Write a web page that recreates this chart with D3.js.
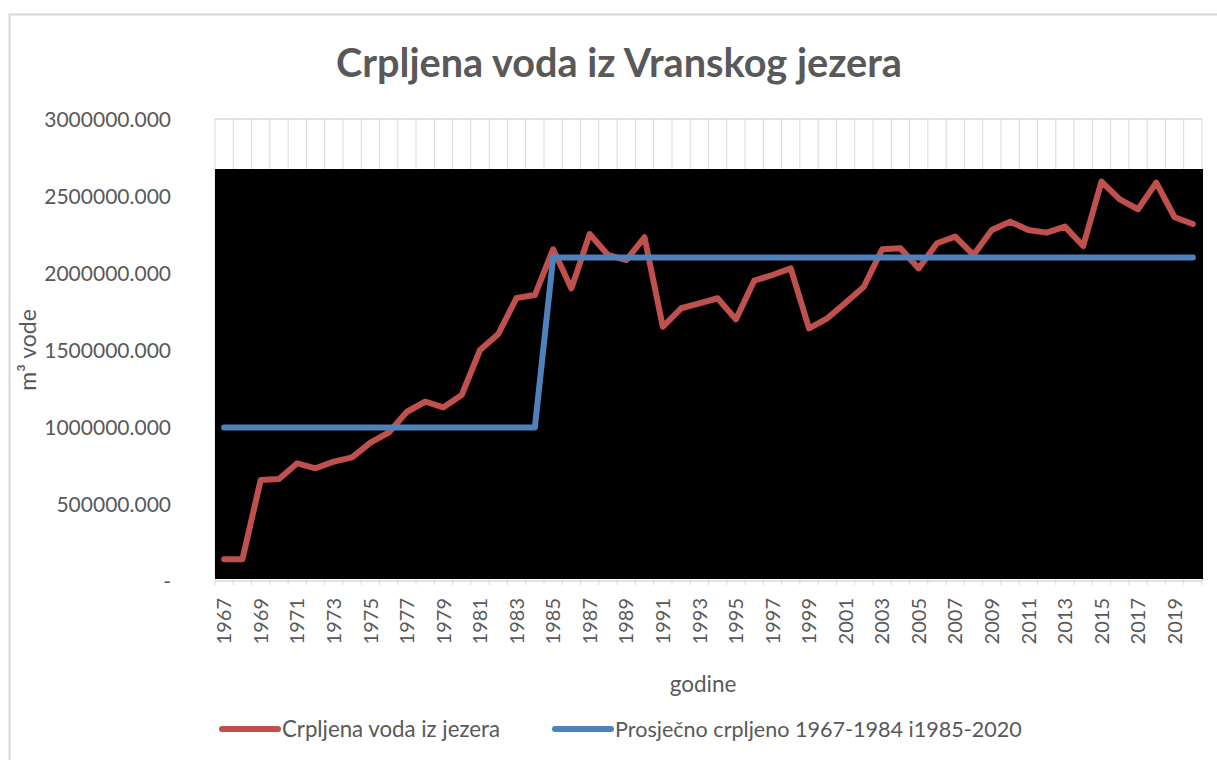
<!DOCTYPE html>
<html>
<head>
<meta charset="utf-8">
<script src="https://cdn.jsdelivr.net/npm/d3@7"></script>
<style>
  html, body { margin: 0; padding: 0; background: #ffffff; }
  svg { display: block; }
  text { font-family: Lato, "Open Sans", sans-serif; fill: #595959; }
</style>
</head>
<body>
<svg id="chart" width="1217" height="760"></svg>
<script>
const years = d3.range(1967, 2021);
const pumped = [
  141000, 141000, 656000, 662000, 764000, 732000, 775000, 803000, 898000, 963000,
  1099000, 1164000, 1128000, 1208000, 1500000, 1604000, 1838000, 1857000,
  2154000, 1900000, 2253000, 2117000, 2084000, 2232000, 1651000, 1771000, 1803000, 1836000,
  1699000, 1950000, 1987000, 2030000, 1641000, 1706000, 1807000, 1911000, 2154000, 2160000,
  2030000, 2193000, 2236000, 2117000, 2279000, 2333000, 2279000, 2262000, 2301000, 2175000,
  2593000, 2478000, 2414000, 2587000, 2362000, 2318000
];
const average = years.map(y => y <= 1984 ? 997000 : 2100000);
const yTicks = [0, 500000, 1000000, 1500000, 2000000, 2500000, 3000000];
const xTickLabels = years.filter(y => (y - 1967) % 2 === 0);
const title = "Crpljena voda iz Vranskog jezera";
const yTitle = "m³ vode";
const xTitle = "godine";
const seriesNames = ["Crpljena voda iz jezera", "Prosječno crpljeno 1967-1984 i1985-2020"];
const seriesColors = ["#C0504D", "#4F81BD"];

const svg = d3.select("#chart");
const L = 215, R = 1202, T = 119, B = 581;

// outer border
svg.append("rect").attr("x", 9.5).attr("y", 14.5).attr("width", 1240).attr("height", 800)
  .attr("fill", "none").attr("stroke", "#d9d9d9").attr("stroke-width", 2);

const x = d3.scaleBand().domain(years).range([L, R]).padding(0);
const y = d3.scaleLinear().domain([0, 3000000]).range([B, T]);

// vertical gridlines at category boundaries
const bounds = years.map(d => x(d)).concat([R]);
svg.append("g").selectAll("line").data(bounds).join("line")
  .attr("x1", d => d).attr("x2", d => d).attr("y1", T).attr("y2", B)
  .attr("stroke", "#d9d9d9").attr("stroke-width", 1);
// horizontal gridlines
svg.append("g").selectAll("line").data(yTicks.filter(v => v > 0)).join("line")
  .attr("x1", L).attr("x2", R).attr("y1", d => y(d)).attr("y2", d => y(d))
  .attr("stroke", "#d9d9d9").attr("stroke-width", 1.5);

// black image block covering plot area
svg.append("rect").attr("x", L).attr("y", 169).attr("width", R - L + 1).attr("height", 579 - 169)
  .attr("fill", "#000000");

// x axis line and ticks
svg.append("line").attr("x1", L).attr("x2", R).attr("y1", B).attr("y2", B)
  .attr("stroke", "#d9d9d9").attr("stroke-width", 1.5);
svg.append("g").selectAll("line").data(bounds).join("line")
  .attr("x1", d => d).attr("x2", d => d).attr("y1", B).attr("y2", B + 4)
  .attr("stroke", "#d9d9d9").attr("stroke-width", 1);

// y tick labels
svg.append("g").selectAll("text").data(yTicks).join("text")
  .attr("x", 171).attr("y", d => y(d)).attr("dy", "0.36em")
  .attr("text-anchor", "end").style("font-size", "21px")
  .text(d => d === 0 ? "-" : d3.format(".3f")(d));

// x tick labels
const cx = d => x(d) + x.bandwidth() / 2;
svg.append("g").selectAll("text").data(xTickLabels).join("text")
  .attr("transform", d => `translate(${cx(d)},598) rotate(-90)`)
  .attr("text-anchor", "end").attr("dy", "0.36em").style("font-size", "20px")
  .text(d => d);

// axis titles
svg.append("text").attr("x", 703).attr("y", 692).attr("text-anchor", "middle")
  .style("font-size", "22.5px").text(xTitle);
svg.append("text").attr("transform", "translate(36,350) rotate(-90)")
  .attr("text-anchor", "middle").style("font-size", "23px").text(yTitle);

// title
const tt = svg.append("text").attr("x", 619).attr("y", 77).attr("text-anchor", "middle")
  .style("font-size", "34px").style("font-weight", "bold").text(title);
function fit(sel, target) {
  const w = sel.node().getComputedTextLength();
  const fs = parseFloat(sel.style("font-size"));
  sel.style("font-size", (fs * target / w).toFixed(2) + "px");
}
fit(tt, 566);

// lines
const line = d3.line().x((d, i) => cx(years[i])).y(d => y(d));
[pumped, average].forEach((s, k) => {
  svg.append("path").datum(s).attr("d", line).attr("fill", "none")
    .attr("stroke", seriesColors[k]).attr("stroke-width", 6)
    .attr("stroke-linejoin", "round").attr("stroke-linecap", "round");
});

// legend
const legX = [222, 555];
const legW = [218, 407];
seriesNames.forEach((n, k) => {
  svg.append("line").attr("x1", legX[k]).attr("x2", legX[k] + 56).attr("y1", 729).attr("y2", 729)
    .attr("stroke", seriesColors[k]).attr("stroke-width", 6).attr("stroke-linecap", "round");
  const t = svg.append("text").attr("x", legX[k] + 60).attr("y", 729).attr("dy", "0.36em")
    .style("font-size", "20px").text(n);
  fit(t, legW[k]);
});
</script>
</body>
</html>
